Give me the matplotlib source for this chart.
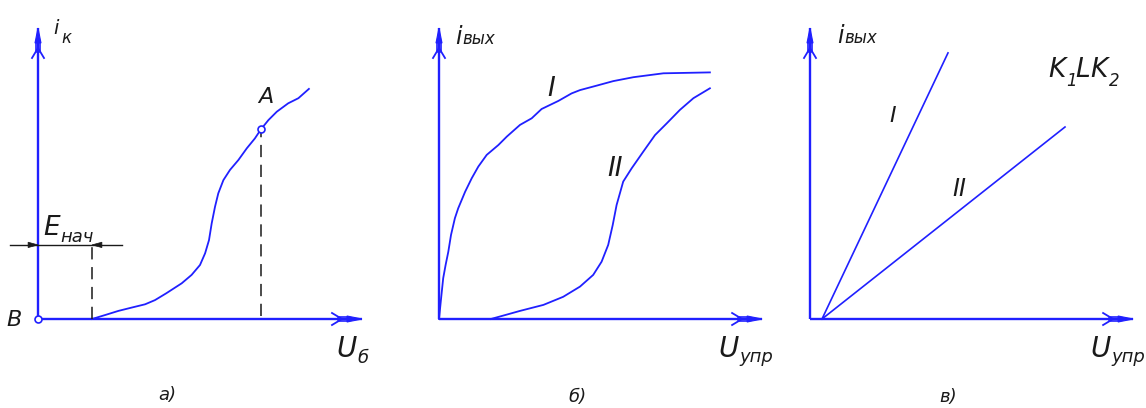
import matplotlib
matplotlib.use("Agg")
import matplotlib.pyplot as plt
import numpy as np

# ---- data (units along each axis) ----
# а) collector current vs base voltage
ua_u = [1.80, 2.23, 2.68, 3.12, 3.57, 3.90, 4.28, 4.79, 5.12, 5.40, 5.57, 5.70, 5.79,
        5.90, 6.01, 6.18, 6.40, 6.68, 6.96, 7.23, 7.43, 7.68, 7.96, 8.34, 8.68, 9.03]
ua_i = [0.00, 0.13, 0.27, 0.38, 0.49, 0.63, 0.86, 1.19, 1.47, 1.80, 2.19, 2.63, 3.19,
        3.74, 4.19, 4.63, 4.97, 5.30, 5.69, 6.02, 6.32, 6.63, 6.91, 7.19, 7.36, 7.67]
point_A = (7.43, 6.32)
e_start = 1.80

# б) output current vs control voltage, curves I and II
ub_I_u = [0.00, 0.07, 0.14, 0.22, 0.31, 0.40, 0.53, 0.64, 0.87, 1.09, 1.31, 1.59, 1.98,
          2.26, 2.70, 3.09, 3.42, 3.98, 4.42, 4.70, 5.26, 5.81, 6.48, 7.48, 9.03]
ub_I_i = [0.00, 0.69, 1.36, 1.80, 2.24, 2.80, 3.36, 3.69, 4.24, 4.69, 5.08, 5.47, 5.80,
          6.08, 6.47, 6.69, 7.00, 7.27, 7.52, 7.63, 7.78, 7.93, 8.06, 8.19, 8.22]
ub_II_u = [1.73, 2.20, 2.70, 3.48, 4.14, 4.70, 5.14, 5.42, 5.64, 5.79, 5.92, 6.14, 6.42,
           6.81, 7.20, 7.59, 8.03, 8.48, 9.03]
ub_II_i = [0.00, 0.13, 0.27, 0.47, 0.74, 1.08, 1.47, 1.91, 2.47, 3.13, 3.80, 4.58, 5.02,
           5.58, 6.13, 6.52, 6.97, 7.36, 7.69]

# в) linear characteristics I and II
uc_I_u = [0.40, 4.60]
uc_I_i = [0.00, 8.87]
uc_II_u = [0.40, 8.50]
uc_II_i = [0.00, 6.40]

BLUE = "#2020ff"
INK = "#1a1a1a"
W, H = 1146, 408
S = 30.0  # pixels per unit
OY = 319

fig = plt.figure(figsize=(W / 100, H / 100), dpi=100)
fig.patch.set_facecolor("white")

FONT = dict(family=["DejaVu Sans"], style="italic", color=INK)


def panel(x0, x1, ox):
    ax = fig.add_axes([x0 / W, 0, (x1 - x0) / W, 1])
    ax.set_xlim((x0 - ox) / S, (x1 - ox) / S)
    ax.set_ylim((OY - H) / S, OY / S)
    ax.axis("off")
    return ax


def axis_arrow(ax, x, y, dx, dy):
    """CAD-style arrowhead at (x, y) pointing along (dx, dy)."""
    d = np.array([dx, dy], float)
    n = np.array([-dy, dx], float)
    p = np.array([x, y], float)
    px = 1.0 / S
    tri = np.array([p, p - d * 15 * px + n * 3.0 * px, p - d * 15 * px - n * 3.0 * px])
    ax.fill(tri[:, 0], tri[:, 1], color=BLUE, lw=0.8, zorder=4)
    for s in (1, -1):
        a = p - d * 14 * px + n * s * 2.2 * px
        b = p - d * 24 * px + n * s * 2.2 * px
        ax.plot([a[0], b[0]], [a[1], b[1]], color=BLUE, lw=1.2, zorder=4)
        c = p - d * 20 * px
        e = p - d * 30 * px + n * s * 6.0 * px
        ax.plot([c[0], e[0]], [c[1], e[1]], color=BLUE, lw=1.3, zorder=4)


def axes_lines(ax, xmax, ymax):
    ax.plot([0, xmax], [0, 0], color=BLUE, lw=1.7, solid_capstyle="butt")
    ax.plot([0, 0], [0, ymax], color=BLUE, lw=1.7, solid_capstyle="butt")
    axis_arrow(ax, xmax, 0, 1, 0)
    axis_arrow(ax, 0, ymax, 0, 1)


DASH = (0, (8, 5))

# ---------- а) ----------
ax = panel(0, 380, 38)
axes_lines(ax, 10.8, 9.7)
ax.plot(ua_u, ua_i, color=BLUE, lw=1.3)
ax.plot(*point_A, marker="o", ms=5, mfc="white", mec=BLUE, mew=1.2, zorder=5)
ax.plot(0, 0, marker="o", ms=5, mfc="white", mec=BLUE, mew=1.2, zorder=5)
ax.plot([point_A[0], point_A[0]], [0.1, point_A[1]], color=INK, lw=1.1, ls=DASH)
dim_y = 2.47
ax.plot([e_start, e_start], [0, dim_y], color=INK, lw=1.1, ls=DASH)
ax.plot([-0.93, 2.8], [dim_y, dim_y], color=INK, lw=1.0)
for xt, sgn in ((0.0, 1), (e_start, -1)):
    ax.fill([xt, xt - sgn * 0.33, xt - sgn * 0.33],
            [dim_y, dim_y + 0.09, dim_y - 0.09], color=INK, lw=0.5, zorder=4)
ax.text(0.18, 2.8, "E", fontsize=19, **FONT)
ax.text(0.75, 2.55, "нач", fontsize=13, **FONT)
ax.text(0.52, 9.5, "i", fontsize=14, **FONT)
ax.text(0.78, 9.2, "к", fontsize=12, **FONT)
ax.text(7.35, 7.2, "A", fontsize=16, **FONT)
ax.text(-1.05, -0.25, "B", fontsize=16, **FONT)
ax.text(9.95, -1.27, "U", fontsize=20, **FONT)
ax.text(10.65, -1.47, "б", fontsize=13, **FONT)
ax.text(4.0, -2.7, "а)", fontsize=13, **FONT)

# ---------- б) ----------
ax = panel(380, 780, 439)
axes_lines(ax, 10.77, 9.7)
ax.plot(ub_I_u, ub_I_i, color=BLUE, lw=1.3)
ax.plot(ub_II_u, ub_II_i, color=BLUE, lw=1.3)
ax.text(3.6, 7.45, "I", fontsize=19, **FONT)
ax.text(5.6, 4.75, "II", fontsize=19, **FONT)
ax.text(0.55, 9.15, "i", fontsize=17, **FONT)
ax.text(0.78, 9.15, "вых", fontsize=12, **FONT)
ax.text(9.3, -1.27, "U", fontsize=20, **FONT)
ax.text(10.0, -1.43, "упр", fontsize=13, **FONT)
ax.text(4.3, -2.75, "б)", fontsize=13, **FONT)

# ---------- в) ----------
ax = panel(780, 1146, 810)
axes_lines(ax, 10.77, 9.7)
ax.plot(uc_I_u, uc_I_i, color=BLUE, lw=1.2)
ax.plot(uc_II_u, uc_II_i, color=BLUE, lw=1.2)
ax.text(2.65, 6.55, "I", fontsize=16, **FONT)
ax.text(4.75, 4.1, "II", fontsize=17, **FONT)
ax.text(0.9, 9.2, "i", fontsize=17, **FONT)
ax.text(1.13, 9.2, "вых", fontsize=12, **FONT)
ax.text(7.93, 8.07, "K", fontsize=19, **FONT)
ax.text(8.55, 7.77, "1", fontsize=12, **FONT)
ax.text(8.85, 8.07, "L", fontsize=19, **FONT)
ax.text(9.33, 8.07, "K", fontsize=19, **FONT)
ax.text(9.97, 7.77, "2", fontsize=12, **FONT)
ax.text(9.33, -1.27, "U", fontsize=20, **FONT)
ax.text(10.05, -1.43, "упр", fontsize=13, **FONT)
ax.text(4.3, -2.75, "в)", fontsize=13, **FONT)

fig.savefig("out.png", dpi=100, facecolor="white")
